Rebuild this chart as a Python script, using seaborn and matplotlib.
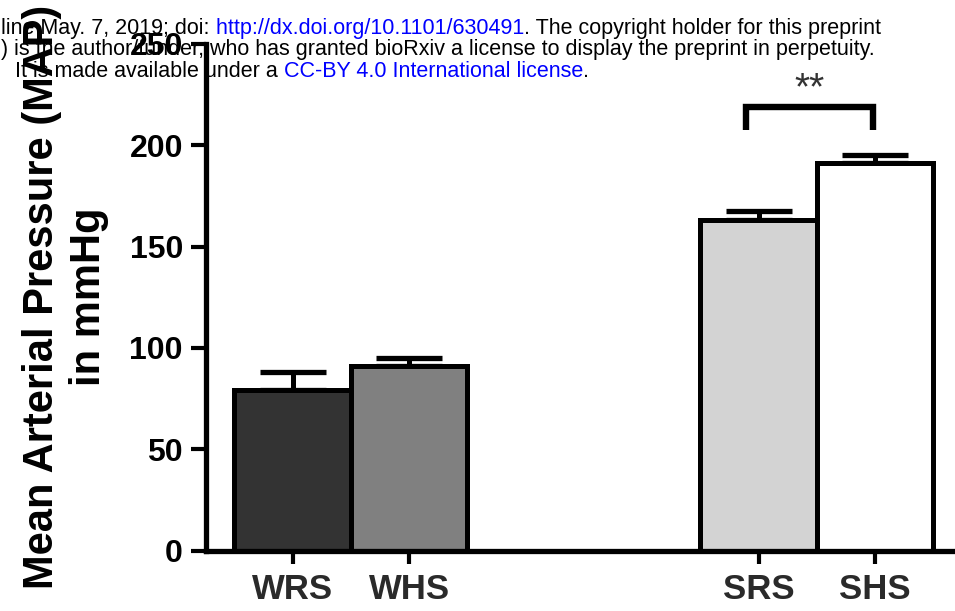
import matplotlib
matplotlib.use("Agg")
import matplotlib.pyplot as plt
from matplotlib.text import Annotation
import seaborn as sns
import pandas as pd

# Mean arterial pressure per group (mmHg) with SEM
groups = ["WRS", "WHS", "SRS", "SHS"]
map_mean = [79.2, 91.1, 163.0, 191.5]
map_sem = [8.9, 3.9, 4.4, 3.6]
bar_colors = ["#333333", "#808080", "#d3d3d3", "#ffffff"]
y_ticks = [0, 50, 100, 150, 200, 250]
sig_pair = ("SRS", "SHS")
sig_label = "**"

sns.set_theme(style="ticks")
plt.rcParams["font.family"] = ["Liberation Sans", "DejaVu Sans"]

W, H = 955, 611
fig = plt.figure(figsize=(W / 100, H / 100), dpi=100)
fig.patch.set_facecolor("white")
ax = fig.add_axes([206 / W, 1 - 550.5 / H, 1 - 206 / W, (550.5 - 44) / H])
ax.set_facecolor("white")

df = pd.DataFrame({"group": groups, "map": map_mean})
# two empty slots separate the W and S groups
order = groups[:2] + [" ", "  "] + groups[2:]
sns.barplot(data=df, x="group", y="map", hue="group", order=order,
            hue_order=groups, palette=dict(zip(groups, bar_colors)),
            saturation=1, width=1.0, edgecolor="black", linewidth=3.6,
            errorbar=None, legend=False, ax=ax)

pos = [order.index(g) for g in groups]
ax.errorbar(pos, map_mean, yerr=[[0] * len(map_sem), map_sem], fmt="none",
            ecolor="black", elinewidth=3.6, capsize=23.5, capthick=3.8,
            zorder=0.9)

# significance bracket between the two S groups
i0, i1 = groups.index(sig_pair[0]), groups.index(sig_pair[1])
top = max(map_mean[i] + map_sem[i] for i in (i0, i1))
y_leg = top + 12.5
y_bar = y_leg + 11.5
x0, x1 = pos[i0] - 0.11, pos[i1] - 0.02
ax.plot([x0, x0, x1, x1], [y_leg, y_bar, y_bar, y_leg], color="black",
        lw=4.6, solid_joinstyle="miter", solid_capstyle="butt", clip_on=False)
ax.text((x0 + x1) / 2, y_bar + 3.5, sig_label, ha="center", va="baseline",
        fontsize=28, color="#333333", clip_on=False)

ax.set_xlim(-0.744, 5.685)
ax.set_ylim(0, 250)
ax.set_yticks(y_ticks)
ax.set_xticks(pos)
ax.set_xticklabels(groups)
ax.set_xlabel("")

sns.despine(ax=ax)
for side in ("left", "bottom"):
    ax.spines[side].set_linewidth(3.8)
    ax.spines[side].set_color("black")

ax.tick_params(axis="y", length=10.8, width=3, pad=5.8, labelsize=23,
               labelcolor="black", color="black")
ax.tick_params(axis="x", length=9.5, width=3, pad=7, labelsize=25,
               labelcolor="#2a2a2a", color="black")
for lab in ax.get_yticklabels():
    lab.set_fontweight("bold")
for lab in ax.get_xticklabels():
    lab.set_fontweight("bold")

ax.set_ylabel("Mean Arterial Pressure (MAP)\nin mmHg", fontsize=30,
              fontweight="bold", linespacing=1.22, color="black")
ax.yaxis.set_label_coords(-0.13, 0.5)

# preprint notice across the top
def notice_line(parts, x, y, size=15.5):
    prev = fig.text(x / W, 1 - y / H, parts[0][0], color=parts[0][1],
                    fontsize=size, ha="left", va="baseline", zorder=10)
    for s, c in parts[1:]:
        prev = fig.add_artist(Annotation(s, xy=(1, 0), xycoords=prev,
                                         ha="left", va="bottom", color=c,
                                         fontsize=size, zorder=10))

blue = "#0000ff"
notice_line([("line May. 7, 2019; doi:", "black"),
             (" http://dx.doi.org/10.1101/630491", blue),
             (". The copyright holder for this preprint", "black")], 1, 34)
notice_line([(") is the author/funder, who has granted bioRxiv a license to display the preprint in perpetuity.", "black")], 1, 55.5)
notice_line([("It is made available under a", "black"),
             (" CC-BY 4.0 International license", blue),
             (".", "black")], 15, 77)

fig.savefig("out.png", dpi=100, facecolor="white")
